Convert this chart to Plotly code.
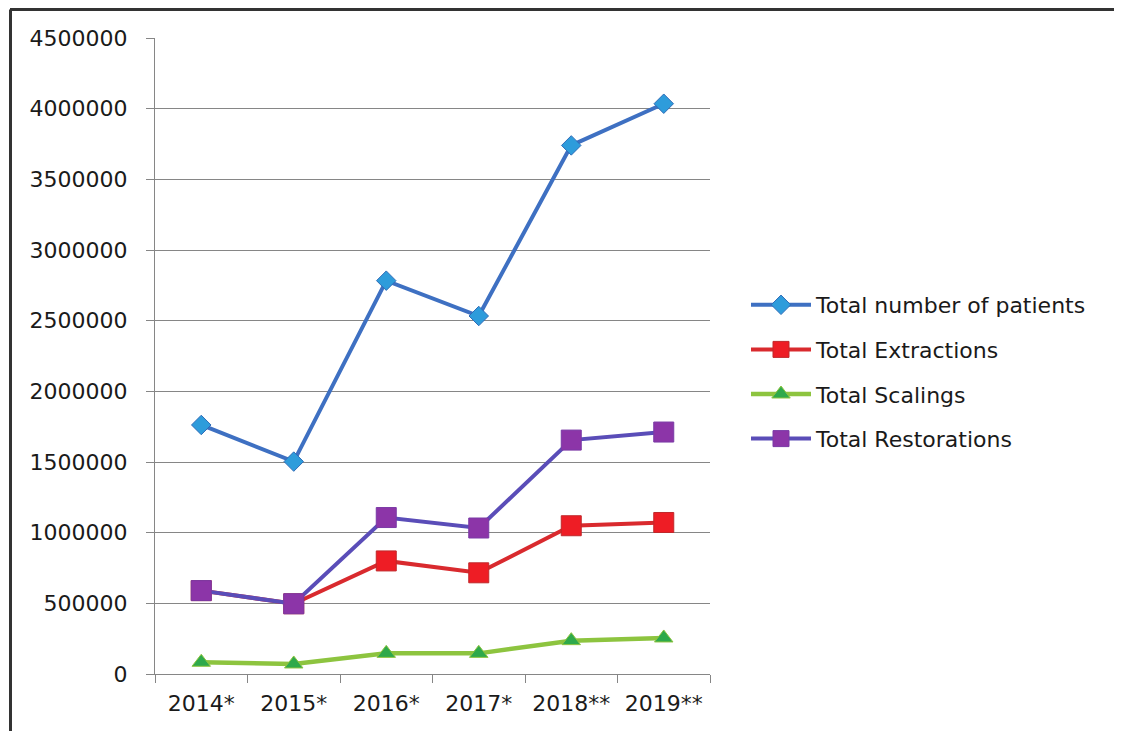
import plotly.graph_objects as go

years = ["2014*", "2015*", "2016*", "2017*", "2018**", "2019**"]
patients = [1762000, 1503000, 2783000, 2533000, 3740000, 4035000]
extractions = [590000, 497000, 800000, 716000, 1049000, 1072000]
scalings = [83000, 71000, 146000, 146000, 236000, 255000]
restorations = [590000, 497000, 1107000, 1033000, 1655000, 1712000]
y_ticks = [0, 500000, 1000000, 1500000, 2000000, 2500000, 3000000, 3500000, 4000000, 4500000]

FONT = "DejaVu Sans"
FS = 22
TXT = "#1a1a1a"
fig = go.Figure()

fig.add_trace(go.Scatter(
    x=years, y=patients, name="Total number of patients", mode="lines+markers",
    line=dict(color="#3E70C2", width=4),
    marker=dict(symbol="diamond", size=15, color="#2E9CDB", line=dict(color="#2F6CB8", width=1)),
    legendgroup="a"))
fig.add_trace(go.Scatter(
    x=years, y=extractions, name="Total Extractions", mode="lines+markers",
    line=dict(color="#D92A2E", width=4),
    marker=dict(symbol="square", size=20, color="#EE1D25", line=dict(color="#C0282B", width=1)),
    legendgroup="b"))
fig.add_trace(go.Scatter(
    x=years, y=scalings, name="Total Scalings", mode="lines+markers",
    line=dict(color="#8DC43F", width=4.5),
    marker=dict(symbol="triangle-up", size=16, color="#2EA94B", line=dict(color="#8DC43F", width=1)),
    legendgroup="c"))
fig.add_trace(go.Scatter(
    x=years, y=restorations, name="Total Restorations", mode="lines+markers",
    line=dict(color="#5A4DB8", width=4),
    marker=dict(symbol="square", size=20, color="#8C35A8", line=dict(color="#7A3AA6", width=1)),
    legendgroup="d"))

# page has an 8px body margin; target screen positions are shifted by -8
OFF = 8
W, H = 1122, 731
L = 155 - OFF
T = 38 - OFF
PR = 710 - OFF
PB = 674 - OFF
R = W - PR
B = H - PB
pw = PR - L
ph = PB - T

def px_x(p):
    return (p - OFF - L) / pw

def px_y(p):
    return (PB - (p - OFF)) / ph

fig.update_layout(
    width=W, height=H,
    margin=dict(l=L, r=R, t=T, b=B),
    paper_bgcolor="white", plot_bgcolor="white",
    font=dict(family=FONT, size=FS, color=TXT),
    showlegend=True,
    legend=dict(
        x=px_x(746), y=px_y(284), xanchor="left", yanchor="top",
        traceorder="grouped", tracegroupgap=13,
        font=dict(family=FONT, size=FS, color=TXT),
        bgcolor="rgba(0,0,0,0)", itemwidth=60,
    ),
    xaxis=dict(
        type="category", tickson="boundaries", ticks="outside", ticklen=8,
        tickcolor="#868686", showline=True, linecolor="#868686", linewidth=1,
        showgrid=False, range=[-0.5, 5.5], ticklabelstandoff=10,
        tickfont=dict(family=FONT, size=FS, color=TXT),
    ),
    yaxis=dict(
        range=[0, 4500000], tickvals=y_ticks, ticktext=[str(v) for v in y_ticks],
        ticks="outside", ticklen=8, tickcolor="#868686",
        showline=True, linecolor="#868686", linewidth=1,
        showgrid=True, gridcolor="#868686", gridwidth=1, zeroline=False,
        ticklabelstandoff=14,
        tickfont=dict(family=FONT, size=FS, color=TXT),
    ),
    shapes=[
        dict(type="line", xref="paper", yref="paper", x0=px_x(10), x1=px_x(1130),
             y0=px_y(9.5), y1=px_y(9.5), line=dict(color="#333333", width=3)),
        dict(type="line", xref="paper", yref="paper", x0=px_x(10.5), x1=px_x(10.5),
             y0=px_y(9.5), y1=px_y(740), line=dict(color="#333333", width=3)),
    ],
)

fig.write_html("out.html")
